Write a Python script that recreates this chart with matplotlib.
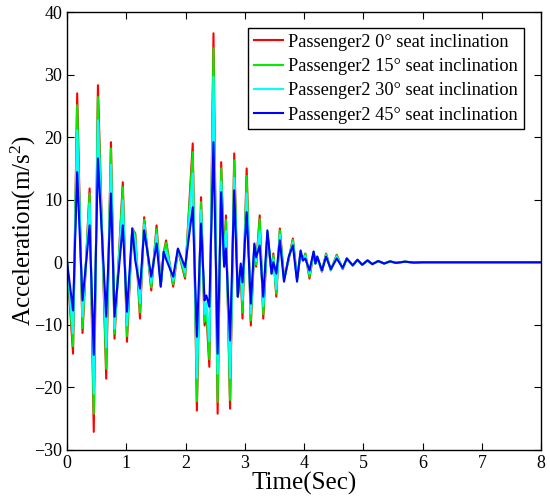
import matplotlib
matplotlib.use("Agg")
import matplotlib.pyplot as plt

plt.rcParams.update(
    {
        "font.family": "Liberation Serif",
        "mathtext.fontset": "custom",
        "mathtext.rm": "Liberation Serif",
        "mathtext.it": "Liberation Serif",
        "mathtext.default": "regular",
        "axes.unicode_minus": True,
    }
)

# time of each extremum (s) and the acceleration read at it for every seat angle
t = [0.00, 0.10, 0.17, 0.26, 0.38, 0.45, 0.52, 0.66, 0.74, 0.80,
     0.94, 1.01, 1.10, 1.15, 1.23, 1.30, 1.42, 1.51, 1.58, 1.63,
     1.67, 1.79, 1.87, 1.99, 2.12, 2.19, 2.26, 2.32, 2.35, 2.40,
     2.47, 2.54, 2.60, 2.65, 2.68, 2.75, 2.82, 2.88, 2.93, 2.96,
     3.03, 3.10, 3.16, 3.19, 3.25, 3.31, 3.38, 3.45, 3.48, 3.53,
     3.59, 3.66, 3.74, 3.81, 3.88, 3.94, 3.98, 4.02, 4.09, 4.16,
     4.19, 4.22, 4.30, 4.37, 4.45, 4.55, 4.65, 4.72, 4.82, 4.90,
     4.98, 5.07, 5.15, 5.25, 5.35, 5.45, 5.55, 5.70, 5.85, 6.00,
     8.00]

acc_0 = [0.0, -14.6, 27.0, -11.3, 11.8, -27.1, 28.3, -18.6, 19.2, -12.2,
         12.8, -12.7, 5.4, 4.6, -9.0, 7.2, -4.5, 5.9, -3.7, 1.5,
         3.5, -3.9, 2.0, -2.6, 19.0, -23.7, 10.4, -10.1, -8.0, -16.7,
         36.6, -24.2, 16.0, -0.5, 7.5, -23.4, 17.4, -5.5, -1.5, -9.0,
         15.0, -10.1, 2.5, -0.7, 7.5, -9.0, 4.6, -1.8, 1.4, -5.5,
         5.4, -2.6, 0.5, 3.8, -2.6, 1.4, 0.3, 1.4, -2.6, 1.7,
         -0.2, 0.9, -1.5, 1.4, -1.3, 1.2, -1.1, 0.6, -0.5, 0.4,
         -0.4, 0.3, -0.3, 0.2, -0.2, 0.15, -0.1, 0.1, -0.05, 0.0,
         0.0]

acc_15 = [0.0, -13.4, 25.1, -10.5, 11.0, -24.2, 26.4, -17.0, 18.2, -11.4,
          12.0, -11.8, 5.4, 4.4, -8.0, 6.8, -4.0, 5.3, -3.7, 1.5,
          3.1, -3.5, 2.0, -2.3, 17.6, -22.2, 9.6, -9.5, -7.5, -15.5,
          34.2, -22.3, 15.0, -0.6, 6.8, -22.0, 16.3, -5.5, -1.2, -8.0,
          13.8, -9.3, 2.6, -0.4, 6.9, -8.3, 4.7, -1.8, 1.1, -5.0,
          5.1, -2.7, 0.6, 3.6, -2.7, 1.5, 0.3, 1.3, -2.3, 1.7,
          -0.2, 0.9, -1.4, 1.3, -1.2, 1.1, -1.0, 0.6, -0.5, 0.4,
          -0.4, 0.3, -0.3, 0.2, -0.2, 0.15, -0.1, 0.1, -0.05, 0.0,
          0.0]

acc_30 = [0.0, -11.3, 21.1, -8.7, 9.4, -21.0, 22.7, -13.6, 15.6, -10.6,
          9.9, -10.1, 5.4, 3.5, -6.5, 6.0, -3.3, 4.4, -3.9, 1.6,
          2.0, -2.9, 2.1, -1.6, 14.2, -18.5, 8.3, -8.3, -6.5, -12.6,
          29.6, -17.8, 12.9, -0.7, 5.0, -18.5, 13.5, -5.5, -0.7, -6.0,
          11.0, -8.2, 2.8, 0.2, 5.0, -7.0, 4.9, -1.8, 0.5, -4.3,
          4.4, -2.9, 0.7, 3.2, -2.9, 1.7, 0.3, 1.0, -1.8, 1.7,
          -0.2, 0.9, -1.4, 1.1, -1.2, 0.9, -1.0, 0.6, -0.5, 0.4,
          -0.4, 0.3, -0.3, 0.2, -0.2, 0.15, -0.1, 0.1, -0.05, 0.0,
          0.0]

acc_45 = [0.0, -7.7, 14.4, -6.1, 5.9, -14.8, 16.6, -8.7, 11.0, -8.7,
          5.9, -7.9, 5.4, 0.3, -4.2, 5.1, -2.3, 3.0, -3.9, 1.7,
          0.5, -2.3, 2.2, -0.8, 8.8, -11.9, 6.2, -6.1, -5.3, -7.1,
          19.2, -14.6, 11.2, -0.7, 2.2, -12.5, 11.5, -5.5, -0.2, -3.2,
          8.0, -6.6, 3.0, 0.8, 2.7, -5.5, 5.1, -1.8, 0.0, -1.8,
          3.5, -3.1, 0.9, 2.7, -3.1, 1.9, 0.3, 0.6, -1.3, 1.7,
          -0.2, 0.9, -1.3, 0.9, -1.1, 0.6, -0.9, 0.6, -0.5, 0.4,
          -0.4, 0.3, -0.3, 0.2, -0.2, 0.15, -0.1, 0.1, -0.05, 0.0,
          0.0]

labels = [
    "Passenger2 0° seat inclination",
    "Passenger2 15° seat inclination",
    "Passenger2 30° seat inclination",
    "Passenger2 45° seat inclination",
]
colors = ["#ff0000", "#00ee00", "#00ffff", "#0000ff"]

fig = plt.figure(figsize=(5.5, 4.98), dpi=100)
ax = fig.add_axes([0.122, 0.0964, 0.862, 0.8795])

for y, c, lab in zip([acc_0, acc_15, acc_30, acc_45], colors, labels):
    ax.plot(t, y, color=c, lw=1.5, label=lab)

ax.set_xlim(0, 8)
ax.set_ylim(-30, 40)
ax.set_xticks(range(0, 9))
ax.set_yticks(range(-30, 41, 10))
ax.tick_params(direction="in", top=True, right=True, labelsize=13, length=5, width=0.8)
for s in ax.spines.values():
    s.set_linewidth(1.0)

ax.set_xlabel("Time(Sec)", fontsize=18, labelpad=0)
ax.set_ylabel(r"Acceleration(m/s$^2$)", fontsize=18, labelpad=-3)

leg = ax.legend(
    loc="upper right",
    bbox_to_anchor=(0.963, 0.963),
    fontsize=13.2,
    fancybox=False,
    edgecolor="black",
    framealpha=1,
    handlelength=1.6,
    handletextpad=0.3,
    labelspacing=0.4,
    borderpad=0.3,
    borderaxespad=0,
)
leg.get_frame().set_linewidth(1.0)

fig.savefig("out.png", dpi=100)
